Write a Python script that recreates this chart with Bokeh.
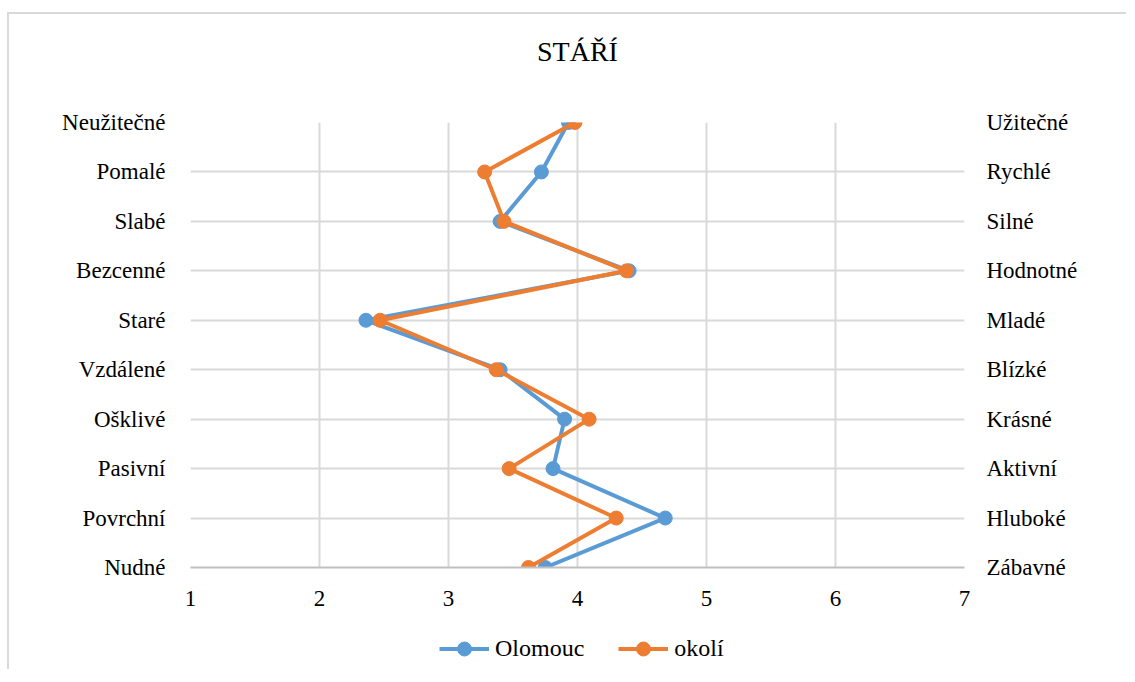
from bokeh.plotting import figure
from bokeh.layouts import column
from bokeh.models import Range1d, LinearAxis, FixedTicker, Legend
from bokeh.core.properties import value
from bokeh.embed import file_html
from bokeh.resources import INLINE

title_text = "STÁŘÍ"
left_labels = ["Neužitečné", "Pomalé", "Slabé", "Bezcenné", "Staré",
               "Vzdálené", "Ošklivé", "Pasivní", "Povrchní", "Nudné"]
right_labels = ["Užitečné", "Rychlé", "Silné", "Hodnotné", "Mladé",
                "Blízké", "Krásné", "Aktivní", "Hluboké", "Zábavné"]
olomouc = [3.93, 3.72, 3.40, 4.40, 2.36, 3.40, 3.90, 3.81, 4.68, 3.75]
okoli = [3.98, 3.28, 3.43, 4.38, 2.47, 3.37, 4.09, 3.47, 4.30, 3.62]
x_ticks = [1, 2, 3, 4, 5, 6, 7]
series_names = ["Olomouc", "okolí"]
series_colors = ["#5B9BD5", "#ED7D31"]

FONT = "Liberation Serif"
BORDER = "2px solid #d9d9d9"
LABEL_SIZE = "23px"

n = len(left_labels)
y_pos = [n - 1 - i for i in range(n)]  # first category at top

# title strip (same horizontal frame as the chart, so the title is centred on it)
p0 = figure(width=1119, height=74, x_range=Range1d(0, 1), y_range=Range1d(0, 1),
            output_backend="svg", toolbar_location=None,
            min_border_left=181, min_border_right=164, min_border_top=0,
            min_border_bottom=0, margin=(12, 0, 0, 7),
            styles={"border-top": BORDER, "border-left": BORDER})
p0.axis.visible = False
p0.grid.grid_line_color = None
p0.outline_line_color = None
p0.text(x=[0.5], y=[0.5], text=[title_text], text_align="center",
        text_baseline="middle", text_font=value(FONT), text_font_size="28px",
        text_color="#000000")

p = figure(width=1119, height=526, x_range=Range1d(1, 7),
           y_range=Range1d(0, n - 1),
           output_backend="svg", toolbar_location=None,
           min_border_left=181, min_border_right=164,
           min_border_top=36, min_border_bottom=45,
           margin=(0, 0, 0, 7),
           styles={"border-left": BORDER})

p.outline_line_color = None
p.background_fill_color = "white"
p.border_fill_color = "white"

# x axis
p.xaxis.ticker = FixedTicker(ticks=x_ticks)
p.xaxis.axis_line_color = "#bfbfbf"
p.xaxis.axis_line_width = 2
p.xaxis.major_tick_line_color = None
p.xaxis.minor_tick_line_color = None
p.xaxis.major_label_standoff = 17
p.xaxis.major_label_text_font = FONT
p.xaxis.major_label_text_font_size = LABEL_SIZE
p.xaxis.major_label_text_color = "#000000"

# left axis
p.yaxis.ticker = FixedTicker(ticks=y_pos)
p.yaxis.major_label_overrides = {y: lab for y, lab in zip(y_pos, left_labels)}
p.yaxis.axis_line_color = None
p.yaxis.major_tick_line_color = None
p.yaxis.minor_tick_line_color = None
p.yaxis.major_label_standoff = 19
p.yaxis.major_label_text_font = FONT
p.yaxis.major_label_text_font_size = LABEL_SIZE
p.yaxis.major_label_text_color = "#000000"

# right axis
ax_r = LinearAxis(ticker=FixedTicker(ticks=y_pos))
ax_r.major_label_overrides = {y: lab for y, lab in zip(y_pos, right_labels)}
ax_r.axis_line_color = None
ax_r.major_tick_line_color = None
ax_r.minor_tick_line_color = None
ax_r.major_label_standoff = 16
ax_r.major_label_text_font = FONT
ax_r.major_label_text_font_size = LABEL_SIZE
ax_r.major_label_text_color = "#000000"
p.add_layout(ax_r, "right")

p.xgrid.grid_line_color = "#d9d9d9"
p.xgrid.grid_line_width = 2
p.ygrid.ticker = FixedTicker(ticks=y_pos)
p.ygrid.grid_line_color = "#d9d9d9"
p.ygrid.grid_line_width = 2

for vals, col in zip([olomouc, okoli], series_colors):
    p.line(vals, y_pos, line_color=col, line_width=4)
    p.scatter(vals, y_pos, size=14, fill_color=col, line_color=col)

# legend strip below the chart (glyphs there lie outside its visible range)
p2 = figure(width=1119, height=57, x_range=Range1d(0, 1), y_range=Range1d(0, 1),
            output_backend="svg", toolbar_location=None,
            min_border_left=0, min_border_right=0, min_border_top=0,
            min_border_bottom=0, margin=(0, 0, 0, 7),
            styles={"border-left": BORDER})
p2.axis.visible = False
p2.grid.grid_line_color = None
p2.outline_line_color = None

items = []
for name, vals, col in zip(series_names, [olomouc, okoli], series_colors):
    ln = p2.line(vals, y_pos, line_color=col, line_width=4)
    sc = p2.scatter(vals, y_pos, size=14, fill_color=col, line_color=col)
    items.append((name, [ln, sc]))

legend = Legend(items=items, orientation="horizontal", location=(249, 3),
                label_text_font=FONT, label_text_font_size="24px",
                label_text_color="#000000", glyph_width=50, glyph_height=35,
                label_standoff=6, spacing=34, border_line_color=None,
                background_fill_alpha=0, margin=0, padding=0)
p2.add_layout(legend)

layout = column(p0, p, p2, spacing=0)
open("out.html", "w").write(file_html(layout, INLINE))
